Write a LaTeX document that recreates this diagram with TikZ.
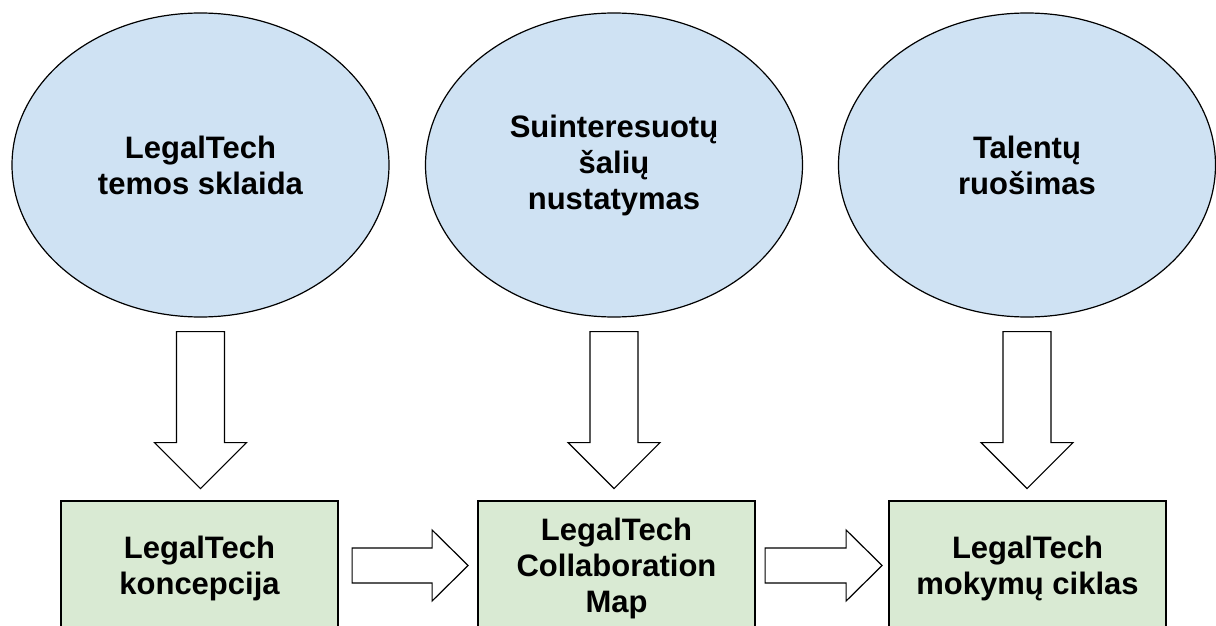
\documentclass[tikz,border=0pt]{standalone}
\usepackage{fontspec}
\setmainfont{Liberation Sans}
\usepackage{tikz}
\usetikzlibrary{shapes,calc}
\definecolor{topicblue}{HTML}{CFE2F3}
\definecolor{resultgreen}{HTML}{D9EAD3}
\tikzstyle{node_topic} = [ellipse, draw, fill=topicblue, line width=1.2pt, inner sep=0pt, minimum width=377pt, minimum height=304pt, align=center, font=\bfseries\fontsize{31}{36}\selectfont]
\tikzstyle{node_result} = [rectangle, draw, fill=resultgreen, line width=1.2pt, inner sep=0pt, minimum width=277pt, minimum height=134pt, align=center, font=\bfseries\fontsize{31}{36}\selectfont]
\tikzstyle{edge_block} = [draw, fill=white, line width=1.2pt, line join=miter]

\begin{document}
\begin{tikzpicture}[x=1pt,y=-1pt]
\useasboundingbox (0,0) rectangle (1216,626);
\node (T1) at (200.5,165) [node_topic] {LegalTech\\temos sklaida};
\node (T2) at (614,165) [node_topic] {Suinteresuotų\\šalių\\nustatymas};
\node (T3) at (1027,165) [node_topic] {Talentų\\ruošimas};

\node (B1) at (199.5,568) [node_result] {LegalTech\\koncepcija};
\node (B2) at (616.5,568) [node_result] {LegalTech\\Collaboration\\Map};
\node (B3) at (1027.5,568) [node_result] {LegalTech\\mokymų ciklas};

\draw[edge_block] ($(T1.south)+(-24,14)$) -- ++(0,111) -- ++(-22,0) -- ++(46,46) -- ++(46,-46) -- ++(-22,0) -- ++(0,-111) -- cycle;
\draw[edge_block] ($(T2.south)+(-24,14)$) -- ++(0,111) -- ++(-22,0) -- ++(46,46) -- ++(46,-46) -- ++(-22,0) -- ++(0,-111) -- cycle;
\draw[edge_block] ($(T3.south)+(-24,14)$) -- ++(0,111) -- ++(-22,0) -- ++(46,46) -- ++(46,-46) -- ++(-22,0) -- ++(0,-111) -- cycle;

\draw[edge_block] ($(B1.east)+(13.5,-20)$) -- ++(80,0) -- ++(0,-18) -- ++(36,35.5) -- ++(-36,35.5) -- ++(0,-18) -- ++(-80,0) -- cycle;
\draw[edge_block] ($(B2.east)+(9.5,-20)$) -- ++(81,0) -- ++(0,-18) -- ++(36,35.5) -- ++(-36,35.5) -- ++(0,-18) -- ++(-81,0) -- cycle;
\end{tikzpicture}
\end{document}
